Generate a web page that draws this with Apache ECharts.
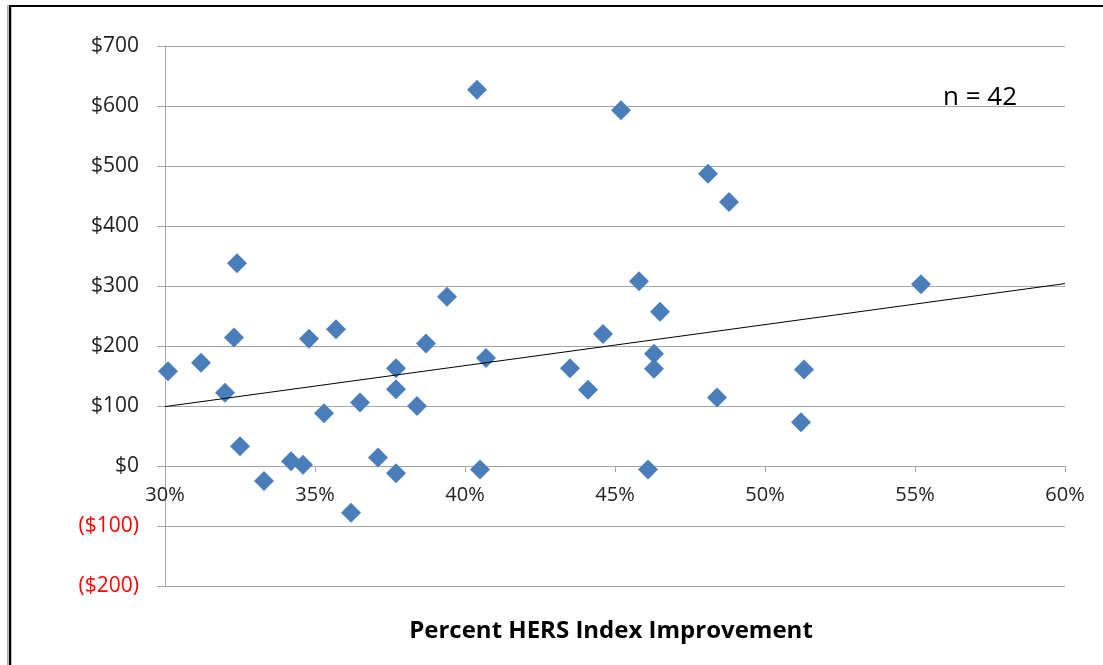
<!DOCTYPE html>
<html>
<head>
<meta charset="utf-8">
<title>HERS scatter</title>
<script src="https://cdn.jsdelivr.net/npm/echarts@6/dist/echarts.min.js"></script>
<style>
  html, body { margin: 0; padding: 0; background: #fff; }
  #chart { width: 1103px; height: 665px; }
</style>
</head>
<body>
<div id="chart"></div>
<script>
// percent HERS index improvement (x) and annual savings in $ (y)
const pctImprovement = [
  30.1, 31.2, 32.0, 32.3, 32.4, 32.5, 33.3, 34.2, 34.6, 34.8,
  35.3, 35.7, 36.2, 36.5, 37.1, 37.7, 37.7, 37.7, 38.4, 38.7,
  39.4, 40.4, 40.5, 40.7, 43.5, 44.1, 44.6, 45.2, 45.8, 46.1,
  46.3, 46.3, 46.5, 48.1, 48.4, 48.8, 51.2, 51.3, 55.2
];
const savings = [
  158, 172, 122, 214, 338, 33, -25, 8, 2, 212,
  88, 228, -78, 106, 14, 163, 128, -12, 100, 204,
  282, 627, -6, 180, 163, 127, 220, 593, 308, -6,
  187, 162, 257, 487, 114, 440, 73, 161, 303
];
// trend line end points
const trendX = [30, 60];
const trendY = [99, 304];

const xTicks = { min: 30, max: 60, step: 5 };
const yTicks = { min: -200, max: 700, step: 100 };

const points = pctImprovement.map((x, i) => [x, savings[i]]);
const trend = trendX.map((x, i) => [x, trendY[i]]);

const font = 'Open Sans';
const chart = echarts.init(document.getElementById('chart'));

// the x axis sits on $0: 2 steps of 60px above the bottom of the grid
const xAxisOffset = -120;

chart.setOption({
  animation: false,
  backgroundColor: '#fff',
  grid: { left: 165, right: 38, top: 46, bottom: 79 },
  xAxis: {
    type: 'value',
    position: 'bottom',
    offset: xAxisOffset,
    min: xTicks.min,
    max: xTicks.max,
    interval: xTicks.step,
    axisLine: { onZero: false, lineStyle: { color: '#a6a6a6', width: 1 } },
    axisTick: { show: true, length: 6, lineStyle: { color: '#a6a6a6' } },
    splitLine: { show: false },
    axisLabel: {
      margin: 19,
      fontFamily: font,
      fontSize: 20,
      color: '#222',
      formatter: v => v + '%'
    }
  },
  yAxis: {
    type: 'value',
    min: yTicks.min,
    max: yTicks.max,
    interval: yTicks.step,
    axisLine: { show: true, onZero: false, lineStyle: { color: '#a6a6a6', width: 1 } },
    axisTick: { show: true, length: 8, lineStyle: { color: '#a6a6a6' } },
    splitLine: { show: true, lineStyle: { color: '#a6a6a6', width: 1 } },
    axisLabel: {
      margin: 26,
      fontFamily: font,
      fontSize: 21,
      color: '#222',
      formatter: v => v < 0 ? '{neg|($' + (-v) + ')}' : '$' + v,
      rich: {
        neg: { color: '#ff0000', fontFamily: font, fontSize: 21 }
      }
    }
  },
  series: [
    {
      type: 'scatter',
      data: points,
      symbol: 'diamond',
      symbolSize: 20,
      itemStyle: { color: '#4a7ebb', opacity: 1 },
      z: 3
    },
    {
      type: 'line',
      data: trend,
      showSymbol: false,
      lineStyle: { color: '#000', width: 1 },
      z: 4
    }
  ],
  graphic: [
    {
      type: 'text',
      left: 943,
      top: 85,
      style: { text: 'n = 42', font: '26px "Open Sans"', fill: '#000' }
    },
    {
      type: 'text',
      x: 611,
      y: 619,
      style: { text: 'Percent HERS Index Improvement', font: 'bold 24px "Open Sans"', fill: '#000', align: 'center' }
    },
    {
      type: 'line',
      shape: { x1: 7.5, y1: 5, x2: 7.5, y2: 665 },
      style: { stroke: '#aaa', lineWidth: 1 }
    },
    {
      type: 'line',
      shape: { x1: 10, y1: 5, x2: 10, y2: 665 },
      style: { stroke: '#000', lineWidth: 2.5 }
    },
    {
      type: 'line',
      shape: { x1: 9, y1: 6, x2: 1103, y2: 6 },
      style: { stroke: '#000', lineWidth: 2 }
    }
  ]
});
</script>
</body>
</html>
